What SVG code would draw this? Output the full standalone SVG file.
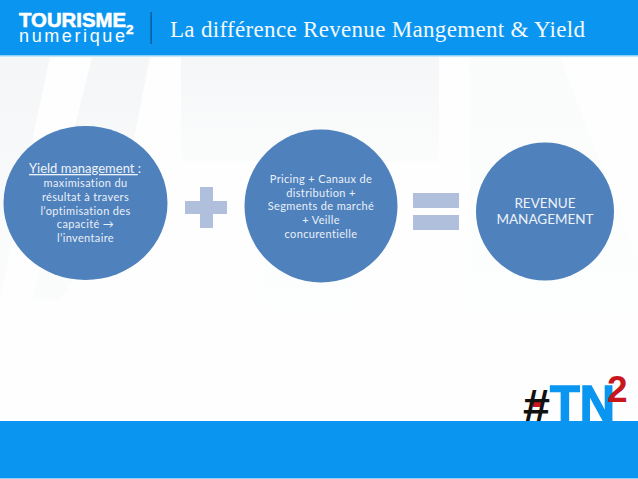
<svg xmlns="http://www.w3.org/2000/svg" width="638" height="479" viewBox="0 0 638 479">
<style>
.band{fill:#0a96f0}
.circle{fill:#4f81bd}
.op{fill:#b0c0dc}
text{font-family:"Lato","Liberation Sans",sans-serif;fill:#fff;text-anchor:middle}
.s{font-size:11px;letter-spacing:.35px;fill:#eaf0f8}
.h{font-size:13px;fill:#eef3f9}
.r{font-size:13.5px;fill:#eef3f9}
.logo{font-family:"Liberation Sans",Arial,sans-serif;text-anchor:start}
</style>
<defs>
<linearGradient id="fade" x1="0" y1="0" x2="0" y2="1"><stop offset="0" stop-color="#f5f6f7"/><stop offset="1" stop-color="#fbfcfc"/></linearGradient>
<linearGradient id="fadeLow" x1="0" y1="0" x2="0" y2="1"><stop offset="0" stop-color="#fafbfb"/><stop offset="1" stop-color="#fdfefe"/></linearGradient>
</defs>
<rect width="638" height="479" fill="#fefefe"/>
<g id="watermark">
<polygon points="0,57 50,57 28,160 0,300" fill="url(#fade)"/>
<polygon points="92,57 150,57 118,220 60,300 32,300" fill="url(#fade)"/>
<rect x="181" y="57" width="258" height="104" fill="url(#fade)"/>
<rect x="265" y="160" width="90" height="150" fill="url(#fadeLow)"/>
<polygon points="470,57 560,57 638,260 638,310 470,310" fill="url(#fadeLow)"/>
</g>
<g id="header">
<rect class="band" width="638" height="55"/>
<rect y="55" width="638" height="1.500" fill="#8fd0f8"/>
<text class="logo" x="19" y="27" font-size="19.500" font-weight="700" stroke="#fff" stroke-width=".6" textLength="107" lengthAdjust="spacingAndGlyphs">TOURISME</text>
<text class="logo" x="19" y="41.500" font-size="18" textLength="106" lengthAdjust="spacing">numerique</text>
<text class="logo" x="126" y="33.500" font-size="13.500" font-weight="700" stroke="#fff" stroke-width=".5">2</text>
<rect x="150.500" y="12" width="1.200" height="32" fill="#0b4f82"/>
<text x="170" y="37" font-size="23" style="font-family:'Liberation Serif','Times New Roman',serif;text-anchor:start;fill:#f3f9fe" textLength="415" lengthAdjust="spacing">La différence Revenue Mangement &amp; Yield</text>
</g>
<g id="hashtag-logo">
<rect x="533" y="399" width="8" height="8" fill="#c8161d"/>
<text class="logo" x="523" y="422" font-size="47" font-weight="700" style="fill:#111" textLength="27" lengthAdjust="spacingAndGlyphs">#</text>
<text class="logo" x="550" y="421" font-size="50" font-weight="700" stroke="#0a96f0" stroke-width="1.500" style="fill:#0a96f0" textLength="65" lengthAdjust="spacingAndGlyphs">TN</text>
<text class="logo" x="607" y="402" font-size="37" font-weight="700" style="fill:#c8161d">2</text>
</g>
<g id="footer">
<rect class="band" y="421" width="638" height="57"/>
<rect y="478" width="638" height="1" fill="#8fd0f8"/>
</g>
<g id="node-yield">
<ellipse class="circle" cx="85.500" cy="203" rx="82" ry="77"/>
<text class="h" x="85" y="173"><tspan text-decoration="underline">Yield management </tspan>:</text>
<text class="s" x="85.500" y="187">maximisation du</text>
<text class="s" x="85.500" y="201">résultat à travers</text>
<text class="s" x="85.500" y="215">l’optimisation des</text>
<text class="s" x="85.500" y="228">capacité →</text>
<text class="s" x="85.500" y="242">l’inventaire</text>
</g>
<g id="node-pricing">
<circle class="circle" cx="321" cy="206" r="76.500"/>
<text class="s" x="321" y="183">Pricing + Canaux de</text>
<text class="s" x="321" y="197">distribution +</text>
<text class="s" x="321" y="210">Segments de marché</text>
<text class="s" x="321" y="224">+ Veille</text>
<text class="s" x="321" y="238">concurentielle</text>
</g>
<g id="node-revenue">
<circle class="circle" cx="545" cy="211.500" r="69"/>
<text class="r" x="545" y="208">REVENUE</text>
<text class="r" x="545" y="224">MANAGEMENT</text>
</g>
<g id="connectors">
<path id="plus" class="op" d="M200 187h13v14h14v13h-14v14h-13v-14h-15v-13h15z"/>
<g id="equals">
<rect class="op" x="413" y="193" width="46" height="15"/>
<rect class="op" x="413" y="215" width="46" height="15"/>
</g>
</g>
</svg>
